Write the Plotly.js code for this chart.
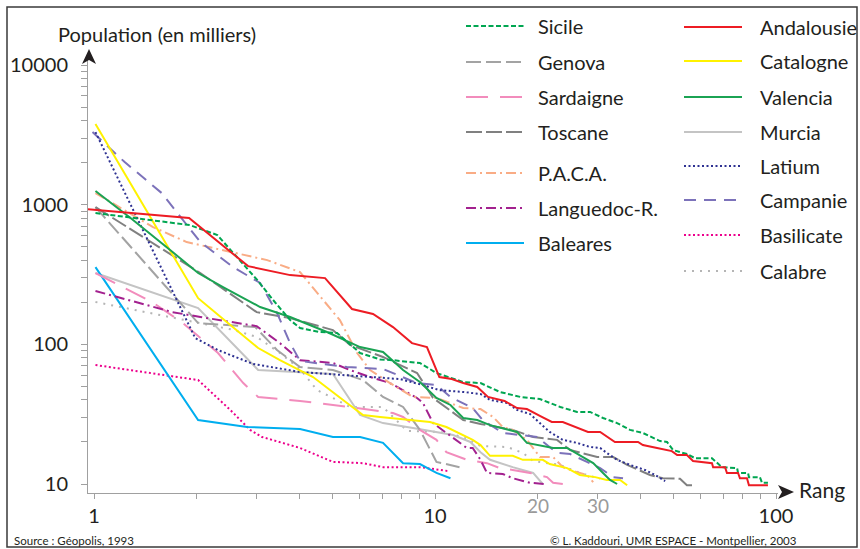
<!DOCTYPE html>
<html><head><meta charset="utf-8">
<script src="https://cdn.plot.ly/plotly-3.0.1.min.js"></script>
<style>html,body{margin:0;padding:0;background:#fff}#chart{width:860px;height:549px}</style>
</head><body><div id="chart"></div>
<script>
// ---------- DATA (rank, population in thousands) ----------
const andalousieRank = [0.96,1.90,2.83,3.76,4.76,5.71,6.58,7.53,8.56,9.47,10.3,11.2,12.1,13.3,14.3,16.0,17.4,18.6,20.3,22.0,23.7,26.3,28.1,30.5,33.7,39.4,40.7,44.8,49.5,51.3,54.8,57.1,64.9,65.4,70.9,71.8,77.4,78.4,82.2,83.3,94.7];
const andalousiePop  = [929,802,363,313,298,179,165,133,102,95.6,58.3,56.4,52.8,49.5,42.0,39.3,35.0,34.4,30.7,27.8,27.8,25.2,23.6,23.6,20.0,20.0,19.0,18.1,17.2,16.1,16.1,14.6,14.1,13.2,13.2,12.0,12.0,11.0,11.0,9.8,9.8];

const sicileRank = [1.01,1.91,2.30,3.01,3.35,3.76,4.02,4.60,5.16,6.03,6.90,7.53,9.03,10.1,12.1,13.6,15.5,17.8,20.3,23.3,26.1,28.5,31.1,34.2,37.3,40.7,45.7,47.9,49.9,54.8,57.9,64.9,69.4,76.9,77.4,82.8,83.3,89.7,91.0,94.7];
const sicilePop  = [871,714,606,289,208,149,131,122.5,120.5,86.7,78,77,73.5,62.3,53.7,52.8,45.6,42.0,40.6,35.6,32.8,32.8,29.7,27.3,24.4,23.2,20.3,20.0,17.5,16.4,15.3,15.3,13.2,13.0,12.0,12.0,11.2,11.2,10.2,10.2];

const catalogneRank = [1.01,2.02,2.47,3.03,3.51,4.39,5.52,6.15,6.90,8.62,9.67,10.8,12.9,13.6,14.5,16.9,18.1,20.7,21.7,24.4,26.6,29.5,31.9,34.9,36.6];
const catalognePop  = [3776,214,142,94.1,77,58.3,38.0,31.2,30.2,28.7,27.8,25.6,20.7,19.0,15.9,15.9,14.9,14.9,13.9,13.0,11.6,11.2,10.7,10.7,9.8];

const valenciaRank = [1.01,1.28,1.70,2.02,2.39,3.07,3.76,4.82,6.03,7.04,8.06,9.03,10.1,11.1,12.1,13.3,14.5,16.3,17.4,18.6,20.3,22.2,24.4,26.6,29.1,31.1,32.6,34.2];
const valenciaPop  = [1252,802,458,324,257,185,157,122.5,95.6,88.1,65.5,53.7,41.3,36.8,29.7,28.7,26.4,24.4,23.6,19.7,19.0,18.1,18.1,16.1,14.1,12.0,10.7,10.0];

const latiumRank = [1.01,1.98,2.31,2.93,4.02,6.03,7.89,9.22,10.3,12.1,13.6,14.5,16.3,17.4,19.0,20.3,21.7,23.7,26.1,28.5,30.5,31.9,34.2,37.3,41.3,44.2,47.3];
const latiumPop  = [3309,111,91,72.3,63.4,59.3,56.4,51.1,47,45.6,44.1,40,38.0,33.9,31.7,27.3,23.6,20.7,19.7,18.4,18.1,16.7,14.9,13.7,12.6,11.6,10.5];

const campanieRank = [0.99,1.23,1.58,2.05,2.56,3.07,3.44,3.76,4.02,5.52,7.04,8.86,10.1,11.1,12.9,13.8,15.8,17.8,19.9,22.8,24.9,27.9,30.5,33.3,35.6];
const campaniePop  = [3309,2018,1211,540,357,275,168,102,76,68.8,66.6,52.8,51.1,42.0,35.0,28.7,23.2,22.4,21.7,16.7,16.4,14.4,13.0,11.2,11.0];

const genovaRank = [1.01,2.02,2.97,3.44,4.02,5.02,6.15,7.04,8.06,9.03,10.1,11.8];
const genovaPop  = [961,142,133,91,68.8,65.5,55.5,42.0,35.6,24.4,14.4,13.2];

const toscaneRank = [1.01,2.05,3.0,3.76,5.02,5.63,7.04,8.86,9.87,12.1,13.6,16.9,19.4,22.8,24.9,29.9,33.3,36.6,42.7,46.6,52.3,54.8,57.1];
const toscanePop  = [961,324,170,154,126.6,99,81.2,62.3,41.3,28.7,26.9,24.4,21.7,20.7,17.5,15.6,15.6,13.7,11.6,11.0,10.9,9.8,9.8];

const pacaRank = [1.01,1.49,1.87,2.56,3.22,4.02,4.70,5.26,5.91,6.45,7.38,8.62,10.1,12.1,13.6,14.8,15.8,16.9,18.6,20.3,22.2,23.7,25.4,27.9,29.1];
const pacaPop  = [1211,691,540,458,401,329,207,149,86.7,65.5,52.8,42.0,41.3,35.0,34.4,30.2,25.6,24.4,20.7,15.6,15.6,13.2,12.4,11.6,10.3];

const languedocRank = [1.01,1.70,2.05,3.0,3.51,4.02,5.02,5.63,6.32,7.38,8.86,9.22,9.87,10.8,12.4,12.9,13.6,14.2,15.8,16.9,19.0,21.0];
const languedocPop  = [241,170,157,135,102,77,73.5,65.5,59.3,52.8,41.3,38.0,27.3,23.2,18.1,18.1,14.9,12.0,11.8,11.0,10.2,10.0];

const sardaigneRank = [1.01,1.48,1.81,2.31,2.74,3.03,4.02,5.63,7.53,8.06,9.03,10.1,10.8,12.4,14.2,15.5,16.9,19.0,21.3,22.2,23.7];
const sardaignePop  = [324,201,144,86.7,52.8,42.0,39.3,35.6,32.2,30.2,24.4,20.7,16.9,14.9,14.1,13.0,12.6,12.0,11.2,10.2,10.0];

const balearesRank = [1.01,2.02,2.81,4.02,5.02,6.03,7.04,8.06,9.03,10.1,11.1];
const balearesPop  = [357,28.7,25.6,24.8,21.7,21.7,19.7,14.1,13.9,12.0,11.0];

const basilicateRank = [1.01,2.02,2.51,2.87,3.11,4.02,5.02,6.15,7.04,9.03,10.9];
const basilicatePop  = [71.1,55.5,33.9,24.4,21.7,18.1,14.4,14.1,13.2,13.2,12.4];

const murciaRank = [1.01,2.02,3.03,4.02,5.02,6.03,7.04,8.62,11.3,12.7,13.6,14.5,16.9,19.4,20.7];
const murciaPop  = [324,182,65.5,63.4,61.3,31.2,27.3,25.2,22.4,20.0,16.9,14.9,13.2,12.0,10.0];

const calabreRank = [1.01,1.46,2.05,2.56,3.0,3.51,4.02,4.51,5.02,5.63,7.04,8.28,10.3,12.1,13.6,16.3,18.1,19.4,23.3,26.6,30.5];
const calabrePop  = [201,168,142,127,113,86.7,66.6,47,41.3,35.6,35.6,24.0,23.6,21.7,18.7,18.4,16.7,14.6,13.7,12.0,10.9];

const yTickVals = [10,100,1000,10000];
const yTickText = ['10','100','1000','10000'];
const xTickVals = [1,10,100];
const xTickText = ['1','10','100'];
const xExtraTicks = [20,30];

// ---------- STYLES ----------
const styles = {
  'Sicile':      {color:'#00a651', dash:'5px,2.5px'},
  'Genova':      {color:'#a3a3a3', dash:'15px,5px'},
  'Sardaigne':   {color:'#f28cbc', dash:'22px,12px'},
  'Toscane':     {color:'#808080', dash:'16px,4px'},
  'P.A.C.A.':    {color:'#f9ac85', dash:'10px,4px,2px,4px'},
  'Languedoc-R.':{color:'#a3218f', dash:'10px,4px,2px,4px'},
  'Baleares':    {color:'#00aeef', dash:'solid'},
  'Andalousie':  {color:'#ed1c24', dash:'solid'},
  'Catalogne':   {color:'#fff200', dash:'solid'},
  'Valencia':    {color:'#1ba353', dash:'solid'},
  'Murcia':      {color:'#c4c4c4', dash:'solid'},
  'Latium':      {color:'#2e3192', dash:'2px,2.5px'},
  'Campanie':    {color:'#7c72ba', dash:'12px,8px'},
  'Basilicate':  {color:'#ec008c', dash:'2px,2.5px'},
  'Calabre':     {color:'#b5b5b5', dash:'2px,6px'}
};

const seriesData = {
  'Sicile':[sicileRank,sicilePop], 'Genova':[genovaRank,genovaPop], 'Sardaigne':[sardaigneRank,sardaignePop],
  'Toscane':[toscaneRank,toscanePop], 'P.A.C.A.':[pacaRank,pacaPop], 'Languedoc-R.':[languedocRank,languedocPop],
  'Baleares':[balearesRank,balearesPop], 'Andalousie':[andalousieRank,andalousiePop], 'Catalogne':[catalogneRank,catalognePop],
  'Valencia':[valenciaRank,valenciaPop], 'Murcia':[murciaRank,murciaPop], 'Latium':[latiumRank,latiumPop],
  'Campanie':[campanieRank,campaniePop], 'Basilicate':[basilicateRank,basilicatePop], 'Calabre':[calabreRank,calabrePop]
};

const drawOrder = ['Calabre','Murcia','Genova','Toscane','Basilicate','Baleares','Sardaigne','Languedoc-R.','P.A.C.A.','Campanie','Latium','Catalogne','Valencia','Sicile','Andalousie'];

const traces = drawOrder.map(n => ({
  type:'scatter', mode:'lines', name:n,
  x: seriesData[n][0], y: seriesData[n][1],
  line:{color:styles[n].color, dash:styles[n].dash, width:2},
  showlegend:false, hoverinfo:'skip'
}));

// ---------- LAYOUT HELPERS (pixel -> paper) ----------
const L = 88, R = 778, T = 60, B = 493;
const px = x => (x - L) / (R - L);
const py = y => (B - y) / (B - T);
const FONT = 'Lato, "Open Sans", sans-serif';
const TXT = '#231f20';

const legendLeft  = [['Sicile',26],['Genova',62],['Sardaigne',97],['Toscane',132],['P.A.C.A.',173],['Languedoc-R.',208],['Baleares',243]];
const legendRight = [['Andalousie',27],['Catalogne',61],['Valencia',97],['Murcia',132],['Latium',166],['Campanie',200],['Basilicate',235],['Calabre',271]];

const shapes = [];
const annotations = [];

function addLegend(list, x0, x1, tx) {
  list.forEach(([n, y]) => {
    shapes.push({type:'line', xref:'paper', yref:'paper', x0:px(x0), x1:px(x1), y0:py(y), y1:py(y),
      line:{color:styles[n].color, dash:styles[n].dash, width:2}});
    annotations.push({xref:'paper', yref:'paper', x:px(tx), y:py(y), xanchor:'left', yanchor:'middle',
      text:n, showarrow:false, font:{family:FONT, size:20, color:TXT}});
  });
}
addLegend(legendLeft, 466, 524, 536);
addLegend(legendRight, 684, 742, 758);

// axis arrows
shapes.push({type:'path', xref:'paper', yref:'paper',
  path:`M ${px(89)} ${py(49)} L ${px(96)} ${py(64)} L ${px(89)} ${py(60)} L ${px(82)} ${py(64)} Z`,
  fillcolor:TXT, line:{width:0}});
shapes.push({type:'path', xref:'paper', yref:'paper',
  path:`M ${px(794)} ${py(492)} L ${px(778)} ${py(485)} L ${px(782)} ${py(492)} L ${px(778)} ${py(499)} Z`,
  fillcolor:TXT, line:{width:0}});
// frame
shapes.push({type:'rect', xref:'paper', yref:'paper', x0:px(7), x1:px(857), y0:py(7), y1:py(547),
  line:{color:'#3a3a3a', width:1.5}, fillcolor:'rgba(0,0,0,0)'});

xExtraTicks.forEach(v => annotations.push({xref:'x', yref:'paper', x:Math.log10(v), y:py(505),
  text:String(v), showarrow:false, xanchor:'center', yanchor:'middle', font:{family:FONT, size:19, color:'#9a9a9a'}}));

annotations.push({xref:'paper', yref:'paper', x:px(157), y:py(34), text:'Population (en milliers)', showarrow:false,
  xanchor:'center', yanchor:'middle', font:{family:FONT, size:20, color:TXT}});
annotations.push({xref:'paper', yref:'paper', x:px(797), y:py(489), text:'Rang', showarrow:false,
  xanchor:'left', yanchor:'middle', font:{family:FONT, size:21, color:TXT}});
annotations.push({xref:'paper', yref:'paper', x:px(12), y:py(540), text:'Source : Géopolis, 1993', showarrow:false,
  xanchor:'left', yanchor:'middle', font:{family:FONT, size:11.5, color:TXT}});
annotations.push({xref:'paper', yref:'paper', x:px(799), y:py(540), text:'© L. Kaddouri, UMR ESPACE - Montpellier, 2003', showarrow:false,
  xanchor:'right', yanchor:'middle', font:{family:FONT, size:11.5, color:TXT}});

// minor ticks
const xMinor = [], yMinor = [];
for (let d = 1; d <= 100; d *= 10) for (let k = 1; k <= 9; k++) { if (d*k <= 100) xMinor.push(d*k); }
for (let d = 10; d <= 10000; d *= 10) for (let k = 1; k <= 9; k++) { if (d*k <= 10000) yMinor.push(d*k); }

const layout = {
  width:860, height:549,
  margin:{l:L, r:860-R, t:T, b:549-B, pad:0},
  paper_bgcolor:'#fff', plot_bgcolor:'#fff',
  showlegend:false, hovermode:false,
  font:{family:FONT, color:TXT},
  xaxis:{type:'log', range:[Math.log10(1)-6/341, Math.log10(100)+2/341],
    showgrid:false, zeroline:false, showline:true, linecolor:'#a0a0a0', linewidth:1,
    tickmode:'array', tickvals:xMinor, ticktext:xMinor.map(v => xTickVals.includes(v) ? xTickText[xTickVals.indexOf(v)] : ''),
    ticks:'outside', ticklen:5, tickcolor:'#a0a0a0', tickwidth:1,
    tickfont:{family:FONT, size:20, color:TXT}, ticklabelstandoff:0},
  yaxis:{type:'log', range:[1-9/139.7, 4+(65-T)/139.7],
    showgrid:false, zeroline:false, showline:true, linecolor:'#a0a0a0', linewidth:1,
    tickmode:'array', tickvals:yMinor, ticktext:yMinor.map(v => yTickVals.includes(v) ? yTickText[yTickVals.indexOf(v)] : ''),
    ticks:'outside', ticklen:6, tickcolor:'#a0a0a0', tickwidth:1,
    tickfont:{family:FONT, size:20, color:TXT}, ticklabelstandoff:9},
  shapes, annotations
};

Plotly.newPlot('chart', traces, layout, {staticPlot:true, displayModeBar:false});
</script>
</body></html>
